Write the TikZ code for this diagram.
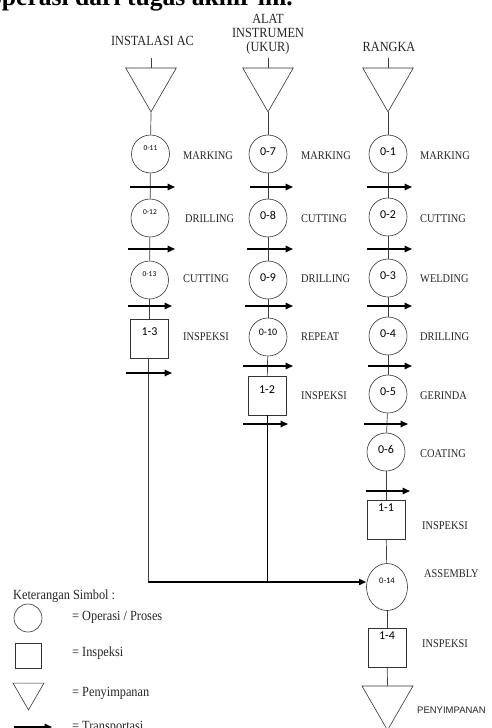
\documentclass[tikz,border=0pt]{standalone}
\usepackage{fontspec}
\setmainfont{Liberation Serif}
\newfontfamily\narrowserif[FakeStretch=0.88]{Liberation Serif}
\newfontfamily\calibrifont{Carlito}
\newfontfamily\arialfont{Liberation Sans}
\usetikzlibrary{shapes.geometric,arrows.meta}

\begin{document}
\begin{tikzpicture}[x=1pt,y=-1pt,
  conn/.style={draw=black!75, line width=0.7pt},
  opnode/.style={circle, draw=black!80, line width=0.6pt, minimum size=38pt, inner sep=0pt,
    font=\calibrifont\fontsize{12}{12}\selectfont, text height=7.6pt, text depth=5.6pt},
  opsmall/.style={opnode, font=\calibrifont\fontsize{7.5}{7.5}\selectfont, text height=4.7pt, text depth=11.3pt},
  inspbox/.style={rectangle, draw=black!80, line width=0.6pt, minimum width=38pt, minimum height=39pt,
    inner sep=0pt, font=\calibrifont\fontsize{12}{12}\selectfont, text height=7.6pt},
  store/.style={regular polygon, regular polygon sides=3, shape border rotate=180,
    draw=black!80, line width=0.6pt, minimum size=58.4pt, inner sep=0pt},
  transport/.style={line width=1.6pt, -{Triangle[length=7.5pt,width=6.5pt]}},
  steplabel/.style={anchor=west, inner sep=0pt, text=black!85, font=\narrowserif\fontsize{11.8}{12}\selectfont},
  coltitle/.style={inner sep=0pt, text=black!85, align=center, font=\narrowserif\fontsize{14}{14}\selectfont},
  legendtext/.style={anchor=base west, inner sep=0pt, text=black!85, font=\narrowserif\fontsize{14}{14}\selectfont}
]
\useasboundingbox (0,0) rectangle (492,728);
\clip (0,0) rectangle (492,728);

% running text of the page above the chart
\node[anchor=base east, inner sep=0pt, font=\bfseries\fontsize{25.6}{26}\selectfont] (pagetext) at (293,5.5) {operasi dari tugas akhir ini.};

% column titles
\node[coltitle] (titleA) at (152.5,40.5) {INSTALASI AC};
\node[coltitle] (titleB) at (268,34.5) {ALAT\\INSTRUMEN\\(UKUR)};
\node[coltitle] (titleC) at (389,46.5) {RANGKA};

% raw material storage
\node[store] (tA) at (151,82.6) {};
\node[store] (tB) at (268,82.6) {};
\node[store] (tC) at (388,82.6) {};
\foreach \t in {tA,tB,tC}
  \draw[conn] (\t.center |- \t.corner 2) -- ++(0,-10);

% column A: instalasi AC
\node[opsmall] (o11) at (150.5,154) {0-11};
\node[opsmall] (o12) at (150,218) {0-12};
\node[opsmall] (o13) at (149.5,280) {0-13};
\node[inspbox, text depth=14.6pt] (i13) at (149.5,338.5) {1-3};

% column B: alat instrumen
\node[opnode] (o7) at (268,154) {0-7};
\node[opnode] (o8) at (268,218) {0-8};
\node[opnode] (o9) at (268,280) {0-9};
\node[opnode, font=\calibrifont\fontsize{10}{10}\selectfont, text height=6.3pt, text depth=10.3pt] (o10) at (268,337) {0-10};
\node[inspbox, text depth=12.6pt] (i12) at (267,395.5) {1-2};

% column C: rangka
\node[opnode] (o1) at (388,154) {0-1};
\node[opnode] (o2) at (388,217) {0-2};
\node[opnode] (o3) at (388,278) {0-3};
\node[opnode] (o4) at (388,336) {0-4};
\node[opnode] (o5) at (388,394) {0-5};
\node[opnode] (o6) at (386,452) {0-6};
\node[inspbox, text depth=24.6pt] (i11) at (386,519.5) {1-1};
\node[ellipse, draw=black!80, line width=0.6pt, minimum width=41pt, minimum height=47pt, inner sep=0pt,
  font=\calibrifont\fontsize{8.5}{8.5}\selectfont, text height=5.4pt, text depth=13.4pt] (o14) at (387,587) {0-14};
\node[inspbox, text depth=24.6pt] (i14) at (387,647.5) {1-4};
\node[store, minimum size=58.9pt] (tD) at (387.5,700.7) {};

% flow lines
\draw[conn] (tA.corner 1) -- (o11);
\draw[conn] (o11) -- (o12);
\draw[conn] (o12) -- (o13);
\draw[conn] (o13) -- (i13);
\coordinate (cA) at (148,582);
\draw[conn] (i13.south -| cA) -- (cA);

\draw[conn] (tB.corner 1) -- (o7);
\draw[conn] (o7) -- (o8);
\draw[conn] (o8) -- (o9);
\draw[conn] (o9) -- (o10);
\draw[conn] (o10) -- (i12);
\coordinate (cB) at (267,582);
\draw[conn, draw=black] (i12) -- (cB);

\draw[conn] (tC.corner 1) -- (o1);
\draw[conn] (o1) -- (o2);
\draw[conn] (o2) -- (o3);
\draw[conn] (o3) -- (o4);
\draw[conn] (o4) -- (o5);
\draw[conn] (o5) -- (o6);
\draw[conn] (o6.south -| i11) -- (i11);
\draw[conn] (i11) -- (o14);
\draw[conn] (o14) -- (i14);
\draw[conn] (i14) -- (tD.center |- tD.corner 2);

% both sub-assemblies join the frame at assembly
\draw[line width=1.5pt, -{Triangle[length=7pt,width=6pt]}] (cA) -- (cA -| o14.west);

% transport arrows
\draw[transport] (130,187) -- (175,187);
\draw[transport] (128,249) -- (175,249);
\draw[transport] (128,306) -- (172,306);
\draw[transport] (126,373) -- (172,373);

\draw[transport] (250,187) -- (293,187);
\draw[transport] (247,249) -- (293,249);
\draw[transport] (245,306) -- (293,306);
\draw[transport] (243,366) -- (293,366);
\draw[transport] (243,424) -- (288,424);

\draw[transport] (367,187) -- (412,187);
\draw[transport] (367,249) -- (412,249);
\draw[transport] (367,306) -- (412,306);
\draw[transport] (368,366) -- (412,366);
\draw[transport] (364,424) -- (408,424);
\draw[transport] (366,491) -- (410,491);

% step labels
\node[steplabel] (lA1) at (183,156) {MARKING};
\node[steplabel] (lA2) at (185,219) {DRILLING};
\node[steplabel] (lA3) at (183,279) {CUTTING};
\node[steplabel] (lA4) at (183,337) {INSPEKSI};

\node[steplabel] (lB1) at (301,156) {MARKING};
\node[steplabel] (lB2) at (301,219) {CUTTING};
\node[steplabel] (lB3) at (301,279) {DRILLING};
\node[steplabel] (lB4) at (301,337) {REPEAT};
\node[steplabel] (lB5) at (301,396) {INSPEKSI};

\node[steplabel] (lC1) at (420,156) {MARKING};
\node[steplabel] (lC2) at (420,219) {CUTTING};
\node[steplabel] (lC3) at (420,279) {WELDING};
\node[steplabel] (lC4) at (420,337) {DRILLING};
\node[steplabel] (lC5) at (420,396) {GERINDA};
\node[steplabel] (lC6) at (420,454) {COATING};
\node[steplabel] (lC7) at (422,526) {INSPEKSI};
\node[steplabel] (lC8) at (424,574) {ASSEMBLY};
\node[steplabel] (lC9) at (422,644) {INSPEKSI};
\node[steplabel, font=\arialfont\fontsize{9.5}{9.5}\selectfont] (lC10) at (417,710) {PENYIMPANAN};

% symbol legend
\node[legendtext] (legTitle) at (13,599) {Keterangan Simbol :};
\node[circle, draw=black!80, line width=0.6pt, minimum size=28pt, inner sep=0pt] (legOp) at (28,618) {};
\node[rectangle, draw=black!80, line width=0.6pt, minimum width=26pt, minimum height=25pt, inner sep=0pt] (legIn) at (28,655.5) {};
\node[store, minimum size=35.8pt] (legSt) at (28.5,692) {};
\coordinate (legTrA) at (14,727);
\coordinate (legTrB) at (52,727);
\draw[transport] (legTrA) -- (legTrB);
\node[legendtext] (legOpText) at (72,620) {= Operasi / Proses};
\node[legendtext] (legInText) at (72,656) {= Inspeksi};
\node[legendtext] (legStText) at (72,696) {= Penyimpanan};
\node[legendtext] (legTrText) at (72,730) {= Transportasi};
\end{tikzpicture}
\end{document}
